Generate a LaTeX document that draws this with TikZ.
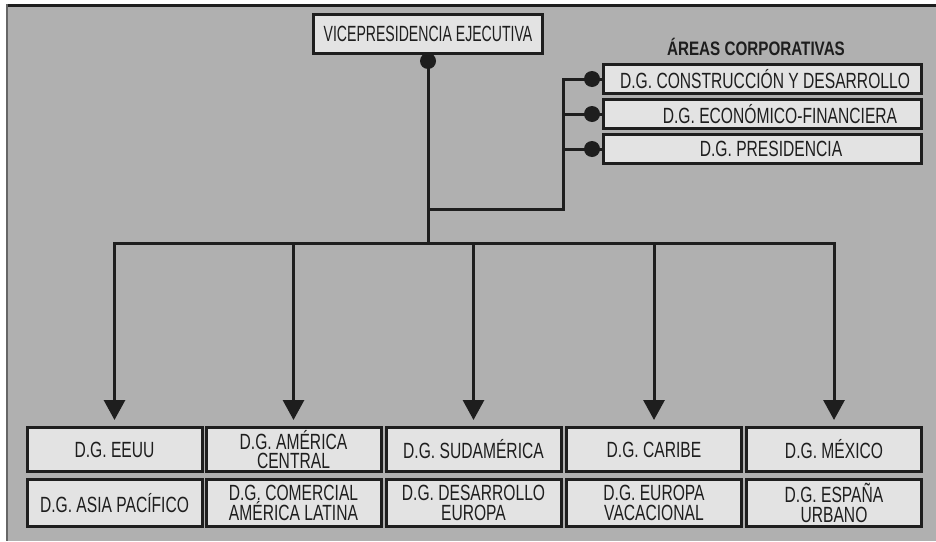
\documentclass[tikz,border=0pt]{standalone}
\usepackage{fontspec}
\setmainfont{Liberation Sans}[FakeStretch=0.71]
\newfontfamily\vpfont{Liberation Sans}[FakeStretch=0.64]
\newfontfamily\titlefont{Liberation Sans}[FakeStretch=0.78]
\usetikzlibrary{arrows.meta}
\definecolor{bg}{HTML}{B0B0B0}
\definecolor{boxfill}{HTML}{E3E3E3}
\definecolor{ink}{HTML}{1E1E1E}
\begin{document}
\begin{tikzpicture}[x=1pt,y=-1pt,
  box/.style={draw=ink, line width=3pt, fill=boxfill, inner sep=0pt, align=center, text=ink,
              font=\fontsize{22}{19.5}\selectfont},
  corp/.style={box, minimum width=318pt, minimum height=29pt},
  gbox/.style={box, minimum width=175pt},
  row1/.style={gbox, minimum height=44pt},
  row2/.style={gbox, minimum height=47pt},
  conn/.style={draw=ink, line width=3pt},
  dot/.style={circle, fill=ink, minimum size=16pt, inner sep=0pt},
  arr/.style={conn, -{Triangle[width=21pt,length=20pt]}, shorten >=6pt}]

\useasboundingbox (0,0) rectangle (936,541);
\fill[bg] (6,4) rectangle (936,541);
\draw[ink, line width=3pt] (6,5.5) -- (936,5.5);
\draw[black!60, line width=1.5pt] (6.75,4) -- (6.75,541);

% top box
\node[box, minimum width=229pt, minimum height=39pt, font=\vpfont\fontsize{22}{19.5}\selectfont] (vp) at (428,34) {VICEPRESIDENCIA EJECUTIVA};

% corporate areas
\node[text=ink, font=\titlefont\bfseries\fontsize{19.5}{19.5}\selectfont] (title) at (756,47) {ÁREAS CORPORATIVAS};
\node[corp] (c1) at (762.5,79)  {\hspace*{5pt}D.G. CONSTRUCCIÓN Y DESARROLLO};
\node[corp] (c2) at (762.5,114) {\hspace*{35pt}D.G. ECONÓMICO-FINANCIERA};
\node[corp] (c3) at (762.5,149) {\hspace*{17pt}D.G. PRESIDENCIA};

% bottom boxes
\node[row1] (e1) at (114.5,449.5) {D.G. EEUU};
\node[row1] (e2) at (293.5,449.5) {D.G. AMÉRICA\\CENTRAL};
\node[row1] (e3) at (473.5,449.5) {D.G. SUDAMÉRICA};
\node[row1] (e4) at (654,449.5)   {D.G. CARIBE};
\node[row1] (e5) at (834,449.5)   {D.G. MÉXICO};
\node[row2] (f1) at (114.5,503) {D.G. ASIA PACÍFICO};
\node[row2] (f2) at (293.5,503) {D.G. COMERCIAL\\AMÉRICA LATINA};
\node[row2] (f3) at (473.5,503) {D.G. DESARROLLO\\EUROPA};
\node[row2] (f4) at (654,503)   {D.G. EUROPA\\VACACIONAL};
\node[row2] (f5) at (834,503)   {D.G. ESPAÑA\\URBANO};

% connectors
\coordinate (bus) at (428,243);
\coordinate (br) at (428,209);
\coordinate (kx) at (563,209);
\draw[conn] (vp.south) -- (bus);
\draw[conn, line join=miter] (br) -| (kx |- c1.west) -- (c1.west);
\draw[conn] (kx |- c2.west) -- (c2.west);
\draw[conn] (kx |- c3.west) -- (c3.west);
\node[dot] (dvp) at ([yshift=-6pt]vp.south) {};
\node[dot] (d1) at ([xshift=-10pt]c1.west) {};
\node[dot] (d2) at ([xshift=-10pt]c2.west) {};
\node[dot] (d3) at ([xshift=-10pt]c3.west) {};

\draw[conn, line cap=rect] (e1.north |- bus) -- (e5.north |- bus);
\foreach \n in {e1,e2,e3,e4,e5}
  \draw[arr] (\n.north |- bus) -- (\n.north);
\end{tikzpicture}
\end{document}
